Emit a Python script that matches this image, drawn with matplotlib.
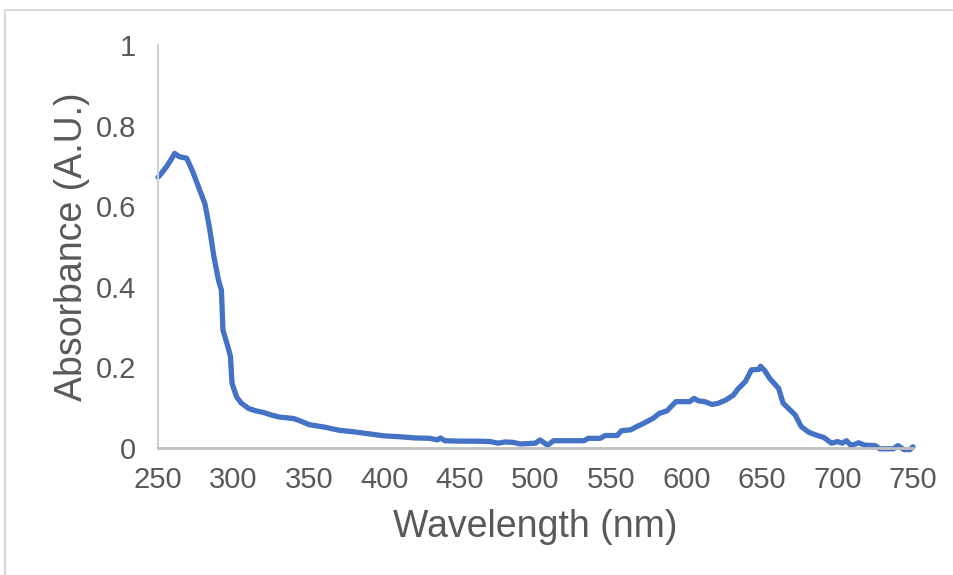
import matplotlib.pyplot as plt
from matplotlib.patches import Rectangle

# Spectrum
wavelength = [250, 252, 256, 259, 261, 264, 269, 273, 278, 281, 284, 287, 290, 292,
              293, 296, 298, 299, 302, 305, 310, 315, 320, 325, 330, 340, 345, 350,
              360, 370, 380, 390, 400, 410, 420, 430, 435, 437, 440, 450, 460, 470,
              475, 480, 485, 490, 495, 500, 503, 508, 512, 520, 532, 535, 543, 546,
              554, 557, 563, 567, 571, 578, 582, 587, 593, 602, 605, 608, 612, 617,
              621, 626, 631, 634, 639, 643, 648, 649, 652, 655, 661, 664, 672, 676,
              681, 686, 691, 696, 700, 703, 706, 709, 714, 718, 725, 728, 737, 740,
              744, 748, 750]
absorbance = [0.672, 0.68, 0.70, 0.718, 0.731, 0.723, 0.719, 0.686, 0.636, 0.607,
              0.549, 0.475, 0.417, 0.392, 0.293, 0.255, 0.227, 0.161, 0.127, 0.112,
              0.098, 0.092, 0.088, 0.082, 0.077, 0.073, 0.066, 0.058, 0.052, 0.044,
              0.040, 0.035, 0.030, 0.028, 0.025, 0.024, 0.020, 0.025, 0.018, 0.017,
              0.017, 0.016, 0.012, 0.015, 0.014, 0.010, 0.011, 0.012, 0.020, 0.007,
              0.018, 0.018, 0.018, 0.024, 0.024, 0.031, 0.031, 0.043, 0.045, 0.053,
              0.060, 0.074, 0.086, 0.092, 0.115, 0.115, 0.123, 0.117, 0.115, 0.108,
              0.111, 0.119, 0.131, 0.146, 0.165, 0.194, 0.195, 0.203, 0.191, 0.173,
              0.148, 0.111, 0.082, 0.053, 0.039, 0.032, 0.026, 0.012, 0.016, 0.012,
              0.018, 0.006, 0.013, 0.007, 0.006, -0.002, -0.002, 0.006, -0.004,
              -0.004, 0.003]

x_ticks = [250, 300, 350, 400, 450, 500, 550, 600, 650, 700, 750]
y_ticks = [0, 0.2, 0.4, 0.6, 0.8, 1]
y_tick_labels = ['0', '0.2', '0.4', '0.6', '0.8', '1']

text_color = '#595959'
plt.rcParams['font.family'] = ['Liberation Sans', 'DejaVu Sans']

fig = plt.figure(figsize=(9.54, 5.75), dpi=100)
ax = fig.add_axes([158 / 954, 1 - 448 / 575, (913 - 158) / 954, (448 - 45) / 575])

# light frame around the chart area, like an Excel chart
fig.patches.append(Rectangle((5 / 954, -0.01), 1.0, 1 - 10 / 575 + 0.01,
                             transform=fig.transFigure, fill=False,
                             edgecolor='#d9d9d9', linewidth=1.5))

ax.plot(wavelength, absorbance, color='#4472C4', linewidth=3.8,
        solid_joinstyle='round', solid_capstyle='round', clip_on=False)

ax.set_xlim(250, 750)
ax.set_ylim(0, 1)
ax.set_xticks(x_ticks)
ax.set_yticks(y_ticks)
ax.set_yticklabels(y_tick_labels)
ax.tick_params(length=0, labelsize=21, colors=text_color)
ax.tick_params(axis='x', pad=13)
ax.tick_params(axis='y', pad=16)

for side in ['top', 'right']:
    ax.spines[side].set_visible(False)
ax.spines['left'].set_color('#d0d0d0')
ax.spines['left'].set_linewidth(1.5)
ax.spines['bottom'].set_color('#bfbfbf')
ax.spines['bottom'].set_linewidth(2)

ax.set_xlabel('Wavelength (nm)', fontsize=27, color=text_color, labelpad=11)
ax.set_ylabel('Absorbance (A.U.)', fontsize=27, color=text_color, labelpad=4)

fig.savefig('out.png', dpi=100)
